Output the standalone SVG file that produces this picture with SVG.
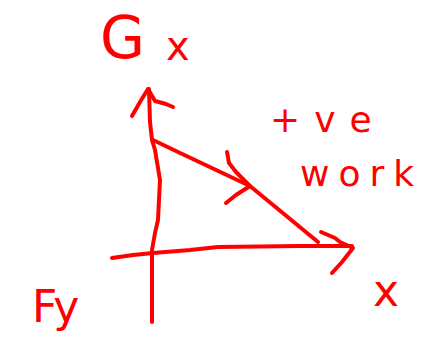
<svg xmlns="http://www.w3.org/2000/svg" width="439" height="345" viewBox="0 0 439 345">
<style>
.s{fill:none;stroke:#ff0000;stroke-width:4;stroke-linecap:round;stroke-linejoin:round}
.t{fill:#ff0000;font-family:"DejaVu Sans","Liberation Sans",sans-serif}
</style>
<rect width="439" height="345" fill="#ffffff"/>
<g id="connectors">
<path class="s" d="M152,322 L152,250 L155,233 L158,220 L160,180 L155,150 L152,140 L150,122 L149,89"/>
<path class="s" d="M132,116 L140,102 L148,89 L155,101 L166,104 L173,107"/>
<path class="s" d="M112,258 L133,255 L153,253 L190,250 L218,247 L300,246 L352,246"/>
<path class="s" d="M321,232 L335,238 L340,242 L353,248 L342,262 L332,273"/>
<path class="s" d="M153,140 L178,152 L250,186 L318,242"/>
<path class="s" d="M227,152 L229,163 L236,172 L250,186 L236,195 L226,203"/>
</g>
<g id="label-gx"><text class="t" x="100" y="58" font-size="58">G</text><text class="t" x="166" y="60" font-size="40">x</text></g>
<g id="label-work"><text class="t" x="270" y="132" font-size="36" letter-spacing="14">+ve</text><text class="t" x="300" y="186" font-size="36" letter-spacing="9">work</text></g>
<g id="label-x"><text class="t" x="373" y="306" font-size="44">x</text></g>
<g id="label-fy"><text class="t" x="32" y="322" font-size="44">Fy</text></g>
</svg>
